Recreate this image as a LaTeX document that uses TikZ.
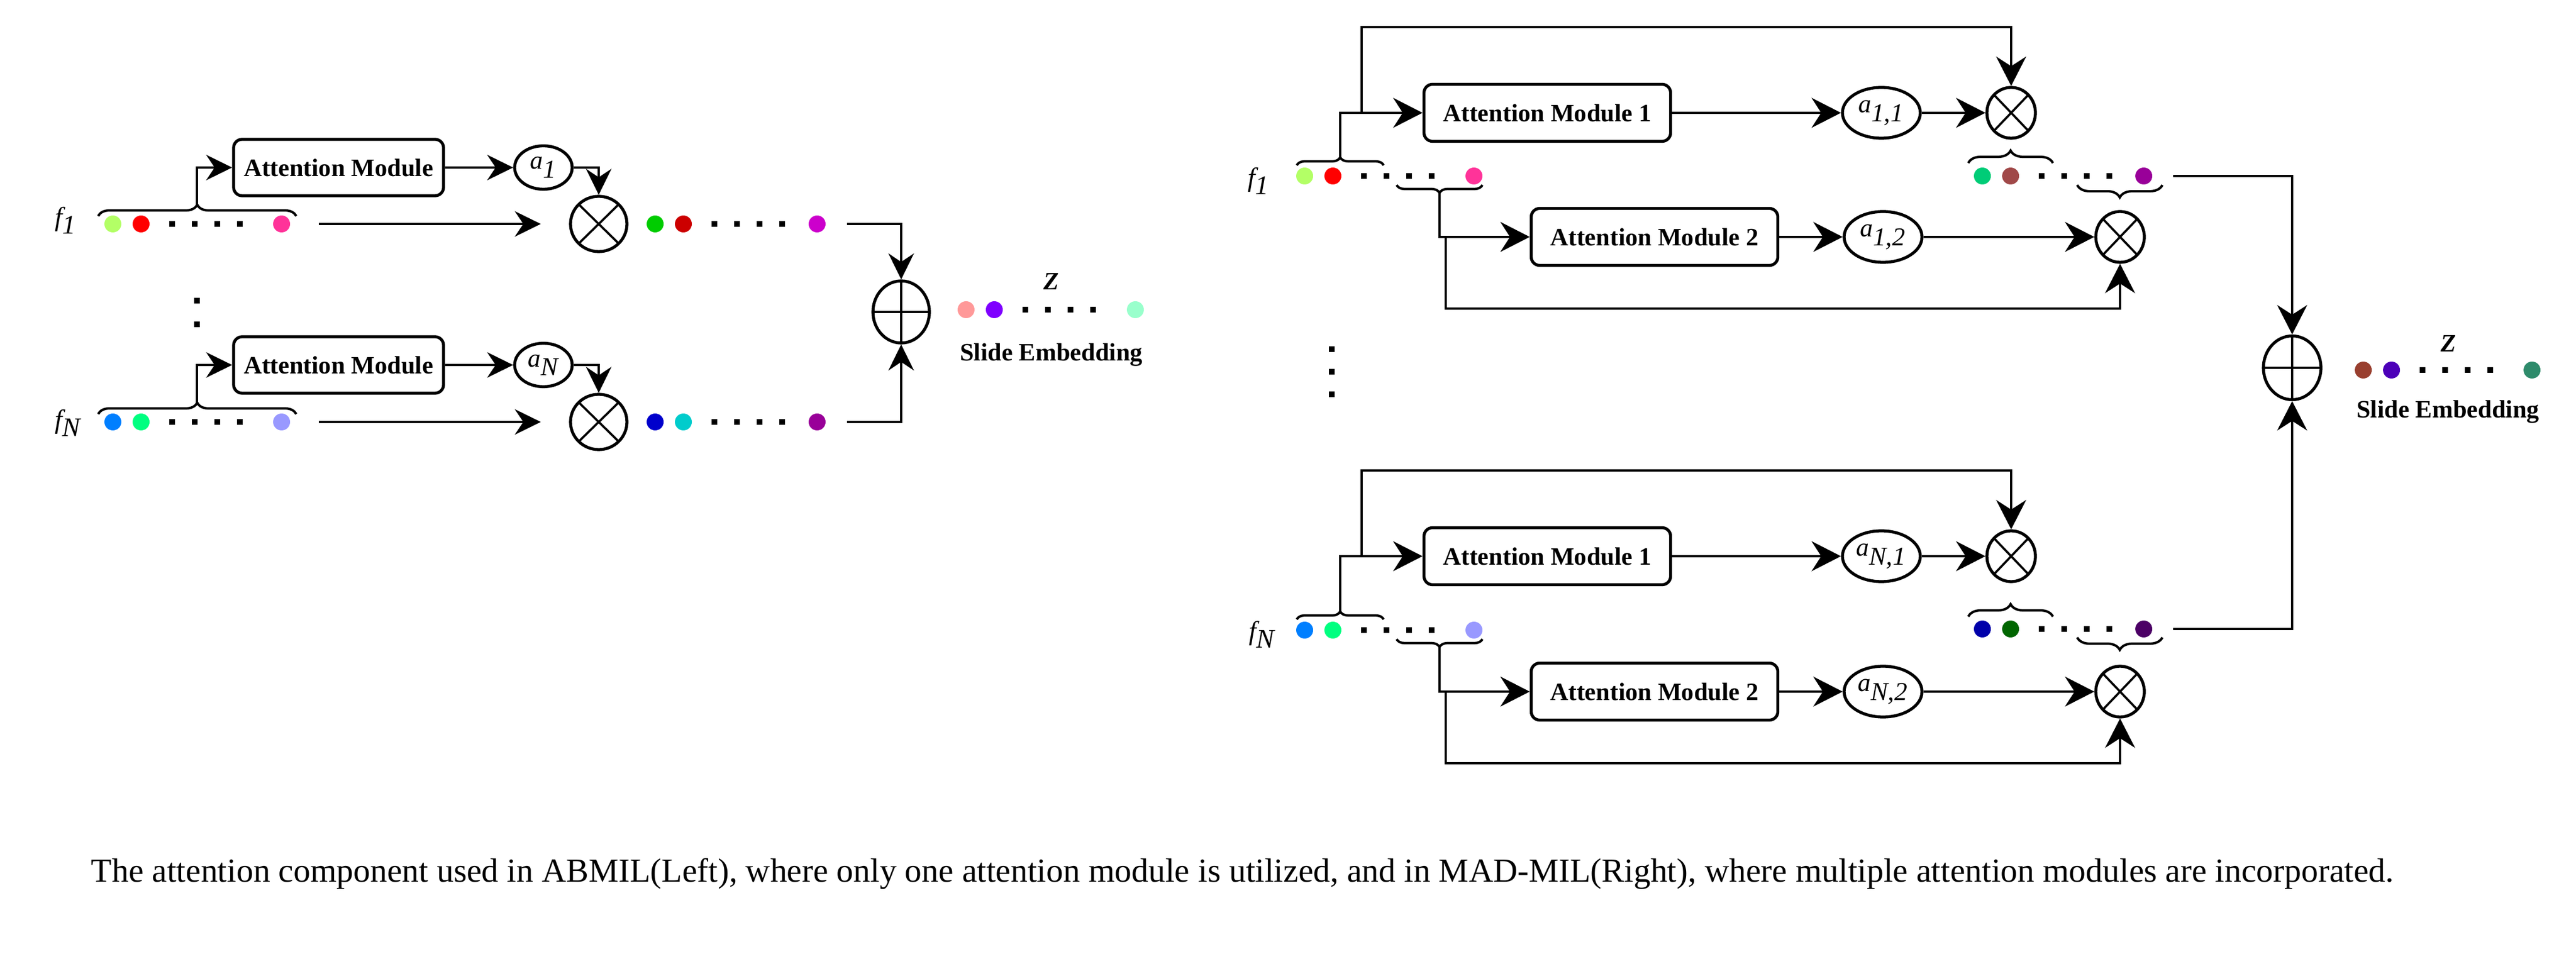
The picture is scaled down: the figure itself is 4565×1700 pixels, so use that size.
\documentclass[tikz,border=0pt]{standalone}
\usepackage{fontspec}
\setmainfont{Liberation Serif}
\usepackage{tikz}
\usetikzlibrary{arrows.meta}
\usetikzlibrary{shapes.geometric}
\usetikzlibrary{decorations.pathreplacing}

\definecolor{cLime}{HTML}{B3FF66}
\definecolor{cRed}{HTML}{FF0000}
\definecolor{cPink}{HTML}{FF3399}
\definecolor{cGreen}{HTML}{00CC00}
\definecolor{cDarkRed}{HTML}{CC0000}
\definecolor{cMagenta}{HTML}{CC00CC}
\definecolor{cAzure}{HTML}{007FFF}
\definecolor{cSpring}{HTML}{00FF80}
\definecolor{cLavender}{HTML}{9999FF}
\definecolor{cBlue}{HTML}{0000CC}
\definecolor{cCyan}{HTML}{00CCCC}
\definecolor{cPurple}{HTML}{990099}
\definecolor{cSalmon}{HTML}{FF9999}
\definecolor{cViolet}{HTML}{7F00FF}
\definecolor{cMint}{HTML}{99FFCC}
\definecolor{cJade}{HTML}{00CC77}
\definecolor{cBrick}{HTML}{A04848}
\definecolor{cNavy}{HTML}{0000AA}
\definecolor{cForest}{HTML}{006600}
\definecolor{cPlum}{HTML}{4C0066}
\definecolor{cBrown}{HTML}{993F2F}
\definecolor{cIndigo}{HTML}{4C00B8}
\definecolor{cSea}{HTML}{2E8B6B}

% row of feature dots: name, x, y, first, second, last colour, offset of last dot
\newcommand{\dotrow}[7]{%
    \node[fdot, fill=#4] (#1a) at (#2,#3) {};
    \node[fdot, fill=#5] (#1b) at (#2+50,#3) {};
    \node[fdot, fill=#6] (#1c) at (#2+#7,#3) {};
    \fill (#2+100,#3-5) rectangle ++(10,10) (#2+140,#3-5) rectangle ++(10,10)
          (#2+180,#3-5) rectangle ++(10,10) (#2+220,#3-5) rectangle ++(10,10);
}

\begin{document}
\begin{tikzpicture}[x=0.1mm, y=-0.1mm, line width=1.2pt,
    arr/.style={-{Stealth[length=4.6mm, width=4.5mm, inset=1.5mm]}},
    arrbig/.style={-{Stealth[length=5.2mm, width=5.3mm, inset=1.7mm]}},
    attbox/.style={draw, rounded corners=1.5mm, line width=1.5pt, inner sep=0pt,
        font=\fontsize{12.6}{15}\selectfont\bfseries},
    weight/.style={ellipse, draw, line width=1.5pt, inner sep=0pt,
        font=\fontsize{13}{15}\selectfont},
    mulop/.style={ellipse, draw, line width=1.5pt, inner sep=0pt,
        path picture={\draw[line width=1.1pt]
            (path picture bounding box.north west) -- (path picture bounding box.south east)
            (path picture bounding box.north east) -- (path picture bounding box.south west);}},
    addop/.style={ellipse, draw, line width=1.5pt, inner sep=0pt,
        path picture={\draw[line width=1.1pt]
            (path picture bounding box.north) -- (path picture bounding box.south)
            (path picture bounding box.west) -- (path picture bounding box.east);}},
    fdot/.style={circle, inner sep=0pt, minimum size=3mm},
    featlab/.style={font=\fontsize{13.5}{16}\selectfont},
    embtext/.style={anchor=base, font=\fontsize{12.6}{15}\selectfont\bfseries},
    curly/.style={decorate, decoration={brace, amplitude=#1}},
]
    \useasboundingbox (0,0) rectangle (4565,1700);

    % ABMIL (left)
    \node[featlab] (fL1) at (117,391) {$\textit{f}_{\textit{1}}$};
    \dotrow{inL1}{200}{397}{cLime}{cRed}{cPink}{299}
    \draw[curly=2mm] (174,383) -- (525,383);
    \coordinate (tipL1) at (349,363);
    \node[attbox, minimum width=37.2mm, minimum height=10mm] (attL1) at (600,297) {Attention Module};
    \node[weight, minimum width=10.2mm, minimum height=7.7mm] (aL1) at (963,297) {$\textit{a}_{\textit{1}}$};
    \node[mulop, minimum width=10mm, minimum height=9.8mm] (mulL1) at (1061,397) {};
    \dotrow{outL1}{1161}{397}{cGreen}{cDarkRed}{cMagenta}{287}
    \draw[arr] (tipL1) |- (attL1);
    \draw[arr] (attL1) -- (aL1);
    \draw[arr] (aL1) -| (mulL1);
    \draw[arr, shorten <=4.9mm, shorten >=5mm] (inL1c) -- (mulL1);

    \fill (344,528) rectangle ++(10,10) (344,570) rectangle ++(10,10);

    \node[featlab] (fLN) at (121,750) {$\textit{f}_{\textit{N}}$};
    \dotrow{inLN}{200}{748}{cAzure}{cSpring}{cLavender}{299}
    \draw[curly=2mm] (174,734) -- (525,734);
    \coordinate (tipLN) at (349,714);
    \node[attbox, minimum width=37.2mm, minimum height=10mm] (attLN) at (600,647) {Attention Module};
    \node[weight, minimum width=10.2mm, minimum height=7.7mm] (aLN) at (963,647) {$\textit{a}_{\textit{N}}$};
    \node[mulop, minimum width=10mm, minimum height=9.8mm] (mulLN) at (1061,748) {};
    \dotrow{outLN}{1161}{748}{cBlue}{cCyan}{cPurple}{287}
    \draw[arr] (tipLN) |- (attLN);
    \draw[arr] (attLN) -- (aLN);
    \draw[arr] (aLN) -| (mulLN);
    \draw[arr, shorten <=4.9mm, shorten >=5mm] (inLNc) -- (mulLN);

    \node[addop, minimum width=10mm, minimum height=11mm] (sumL) at (1597,553) {};
    \draw[arr, shorten <=3.6mm] (outL1c) -| (sumL);
    \draw[arr, shorten <=3.6mm] (outLNc) -| (sumL);
    \dotrow{zL}{1712}{549}{cSalmon}{cViolet}{cMint}{300}
    \node[embtext, font=\fontsize{12.6}{15}\selectfont\bfseries\itshape] (zlabL) at (1863,514) {Z};
    \node[embtext] (embL) at (1863,640) {Slide Embedding};

    % MAD-MIL (right), first instance
    \node[featlab] (fR1) at (2231,321) {$\textit{f}_{\textit{1}}$};
    \dotrow{inR1}{2312}{312}{cLime}{cRed}{cPink}{300}
    \draw[curly=1.4mm] (2298,293) -- (2452,293);
    \draw[curly=1.4mm] (2627,328) -- (2475,328);
    \coordinate (tipR1a) at (2375,279);
    \coordinate (tipR1b) at (2551,342);
    \coordinate (jR1) at (2413,200);
    \coordinate (topR1) at (2413,48);
    \coordinate (jR1b) at (2562,420);
    \coordinate (botR1) at (2562,547);
    \node[attbox, minimum width=43.7mm, minimum height=10.1mm] (attR11) at (2742,200) {Attention Module 1};
    \node[weight, minimum width=13.8mm, minimum height=9mm] (aR11) at (3334,200) {$\textit{a}_{\textit{1,1}}$};
    \node[mulop, minimum width=8.6mm, minimum height=9mm] (mulR11) at (3564,200) {};
    \node[attbox, minimum width=43.7mm, minimum height=10.1mm] (attR12) at (2932,420) {Attention Module 2};
    \node[weight, minimum width=13.8mm, minimum height=9mm] (aR12) at (3337,420) {$\textit{a}_{\textit{1,2}}$};
    \node[mulop, minimum width=8.6mm, minimum height=9mm] (mulR12) at (3757,420) {};
    \dotrow{outR1}{3513}{312}{cJade}{cBrick}{cPurple}{286}
    \draw[curly=2.2mm] (3488,289) -- (3638,289);
    \draw[curly=2.2mm] (3832,328) -- (3681,328);
    \draw[arrbig] (tipR1a) |- (attR11);
    \draw[arrbig] (jR1) -- (topR1) -| (mulR11);
    \draw[arrbig] (attR11) -- (aR11);
    \draw[arrbig] (aR11) -- (mulR11);
    \draw[arrbig] (tipR1b) |- (attR12);
    \draw[arrbig] (jR1b) -- (botR1) -| (mulR12);
    \draw[arrbig] (attR12) -- (aR12);
    \draw[arrbig] (aR12) -- (mulR12);

    \fill (2355,614) rectangle ++(10,10) (2355,654) rectangle ++(10,10) (2355,694) rectangle ++(10,10);

    % MAD-MIL (right), N-th instance
    \node[featlab] (fRN) at (2237,1125) {$\textit{f}_{\textit{N}}$};
    \dotrow{inRN}{2312}{1117}{cAzure}{cSpring}{cLavender}{300}
    \draw[curly=1.4mm] (2298,1098) -- (2452,1098);
    \draw[curly=1.4mm] (2627,1133) -- (2475,1133);
    \coordinate (tipRNa) at (2375,1084);
    \coordinate (tipRNb) at (2551,1147);
    \coordinate (jRN) at (2413,986);
    \coordinate (topRN) at (2413,834);
    \coordinate (jRNb) at (2562,1226);
    \coordinate (botRN) at (2562,1353);
    \node[attbox, minimum width=43.7mm, minimum height=10.1mm] (attRN1) at (2742,986) {Attention Module 1};
    \node[weight, minimum width=13.8mm, minimum height=9mm] (aRN1) at (3334,986) {$\textit{a}_{\textit{N,1}}$};
    \node[mulop, minimum width=8.6mm, minimum height=9mm] (mulRN1) at (3564,986) {};
    \node[attbox, minimum width=43.7mm, minimum height=10.1mm] (attRN2) at (2932,1226) {Attention Module 2};
    \node[weight, minimum width=13.8mm, minimum height=9mm] (aRN2) at (3337,1226) {$\textit{a}_{\textit{N,2}}$};
    \node[mulop, minimum width=8.6mm, minimum height=9mm] (mulRN2) at (3757,1226) {};
    \dotrow{outRN}{3513}{1115}{cNavy}{cForest}{cPlum}{286}
    \draw[curly=2.2mm] (3488,1093) -- (3638,1093);
    \draw[curly=2.2mm] (3832,1130) -- (3681,1130);
    \draw[arrbig] (tipRNa) |- (attRN1);
    \draw[arrbig] (jRN) -- (topRN) -| (mulRN1);
    \draw[arrbig] (attRN1) -- (aRN1);
    \draw[arrbig] (aRN1) -- (mulRN1);
    \draw[arrbig] (tipRNb) |- (attRN2);
    \draw[arrbig] (jRNb) -- (botRN) -| (mulRN2);
    \draw[arrbig] (attRN2) -- (aRN2);
    \draw[arrbig] (aRN2) -- (mulRN2);

    \node[addop, minimum width=10.2mm, minimum height=11.3mm] (sumR) at (4062,652) {};
    \draw[arrbig, shorten <=3.5mm] (outR1c) -| (sumR);
    \draw[arrbig, shorten <=3.5mm] (outRNc) -| (sumR);
    \dotrow{zR}{4188}{656}{cBrown}{cIndigo}{cSea}{299}
    \node[embtext, font=\fontsize{12.6}{15}\selectfont\bfseries\itshape] (zlabR) at (4339,624) {Z};
    \node[embtext] (embR) at (4338,741) {Slide Embedding};

    \node[anchor=base, font=\fontsize{17}{20}\selectfont] (caption) at (2202,1563)
        {The attention component used in ABMIL(Left), where only one attention module is utilized, and in MAD-MIL(Right), where multiple attention modules are incorporated.};
\end{tikzpicture}
\end{document}
